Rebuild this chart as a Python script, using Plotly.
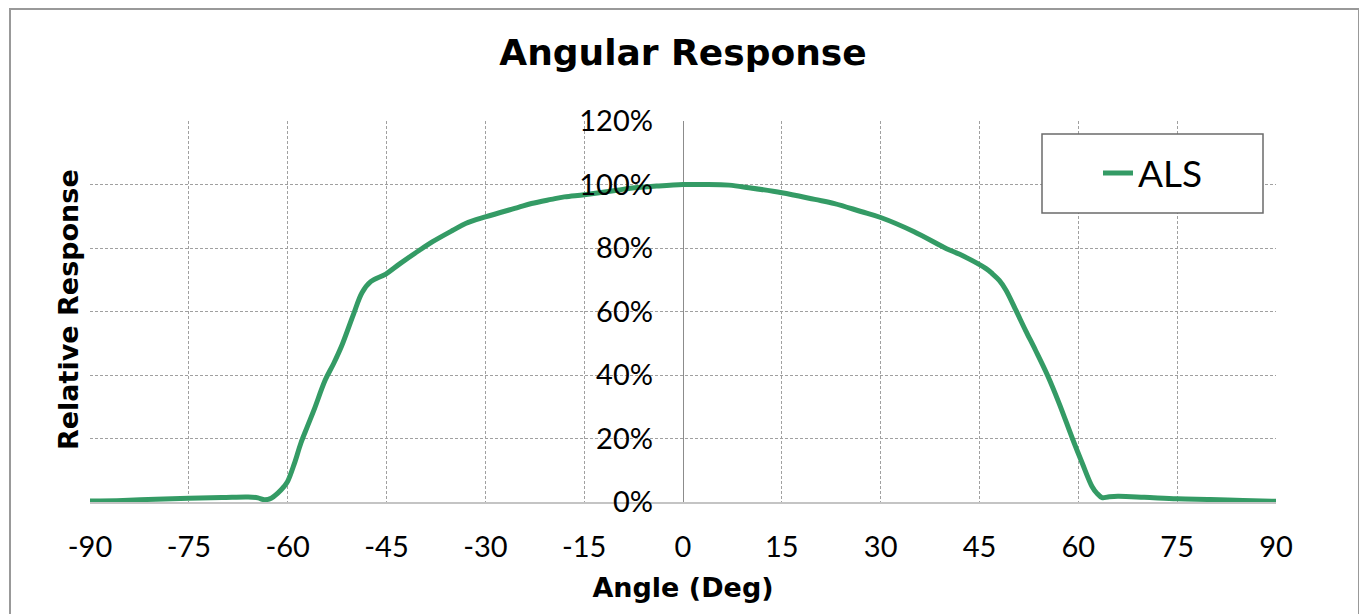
import plotly.graph_objects as go

# Data
angles = [-90, -85, -80, -75, -70, -66, -64.5, -63.5, -62.5, -61.5, -60.5, -60, -59, -58, -57, -56,
          -54.3, -53, -51.8, -50, -48.7, -47.4, -45.1, -43, -40, -38, -35, -33, -30, -25,
          -23, -20, -18, -15, -10, -8, -4, 0, 3, 7, 10, 15, 20, 23, 27, 30, 35, 40, 42,
          46, 47, 48, 49, 50.5, 52, 53.5, 55.3, 57.1, 59.1, 60.6, 62.1, 62.8, 63.6, 64.5,
          66, 70, 75, 80, 85, 90]
response = [0.3, 0.5, 0.9, 1.2, 1.4, 1.6, 1.3, 0.7, 1.2, 2.8, 5.0, 6.5, 12, 18.5, 23.8, 29,
            38.4, 43.7, 49.2, 59.2, 66.0, 69.4, 71.8, 75, 79.3, 82, 85.5, 87.7, 89.8, 92.8,
            94, 95.3, 96.1, 96.8, 98.2, 98.8, 99.5, 100, 100, 99.8, 99, 97.4, 95.3, 94, 91.5,
            89.6, 85.2, 79.8, 78, 73.5, 71.8, 69.8, 66.8, 60.5, 54, 47.8, 40, 31, 20, 12.2,
            4.8, 2.8, 1.4, 1.6, 1.8, 1.5, 1.0, 0.8, 0.5, 0.2]
series_name = "ALS"
x_ticks = [-90, -75, -60, -45, -30, -15, 0, 15, 30, 45, 60, 75, 90]
y_ticks = [0, 0.2, 0.4, 0.6, 0.8, 1.0, 1.2]

GREEN = "#349B65"
FONT = "Lato"
BOLD = "DejaVu Sans"

# page body has an 8px margin: plot area wanted at x 90..1276, y 121..502 on the page
ML, MR, MT, MB = 82, 99, 113, 120
PX0, PX1, PY0, PY1 = 90, 1276, 121, 502
PW, PH = PX1 - PX0, PY1 - PY0


def px(x):
    return (x - PX0) / PW


def py(y):
    return (PY1 - y) / PH


fig = go.Figure()
fig.add_trace(go.Scatter(
    x=angles, y=[v / 100 for v in response], mode="lines", name=series_name,
    line=dict(color=GREEN, width=5, shape="spline", smoothing=1.0),
))

fig.update_layout(
    width=1367, height=614,
    margin=dict(l=ML, r=MR, t=MT, b=MB),
    paper_bgcolor="white", plot_bgcolor="white",
    font=dict(family=FONT, color="black"),
    title=dict(text="<b>Angular Response</b>", x=0.5, xanchor="center", xref="paper",
               y=1 - (52 - 8) / 614, yanchor="middle", font=dict(size=36, family=BOLD)),
    showlegend=True,
    legend=dict(x=px(1153), y=py(173.5), xanchor="center", yanchor="middle",
                bgcolor="rgba(0,0,0,0)", borderwidth=0,
                font=dict(size=37, family=FONT, color="black")),
    xaxis=dict(range=[-90, 90], tickvals=x_ticks, ticktext=[str(v) for v in x_ticks],
               showgrid=True, gridcolor="#a0a0a0", griddash="3px,2px", gridwidth=1,
               zeroline=True, zerolinecolor="#8c8c8c", zerolinewidth=1,
               showline=True, linecolor="#c4c4c4", linewidth=2,
               ticks="", ticklabelstandoff=18,
               tickfont=dict(size=29, family=FONT),
               title=dict(text="<b>Angle (Deg)</b>", font=dict(size=27, family=BOLD), standoff=16)),
    yaxis=dict(range=[0, 1.2], tickvals=y_ticks, tickformat=".0%",
               anchor="free", position=0.5,
               showgrid=True, gridcolor="#a0a0a0", griddash="3px,2px", gridwidth=1,
               zeroline=False, showline=False, ticks="", ticklabelstandoff=30,
               tickfont=dict(size=29, family=FONT)),
    shapes=[
        dict(type="rect", xref="paper", yref="paper",
             x0=px(1042), x1=px(1263), y0=py(213), y1=py(134),
             line=dict(color="#6b6b6b", width=1.5), fillcolor="white", layer="above"),
        dict(type="rect", xref="paper", yref="paper",
             x0=px(10), x1=px(1359), y0=py(640), y1=py(9),
             line=dict(color="#999999", width=2), fillcolor="rgba(0,0,0,0)", layer="below"),
    ],
    annotations=[
        dict(text="<b>Relative Response</b>", xref="paper", yref="paper",
             x=px(68), y=py(310), xanchor="center", yanchor="middle",
             textangle=-90, showarrow=False, font=dict(size=27, family=BOLD, color="black")),
    ],
)

fig.write_html("out.html")
